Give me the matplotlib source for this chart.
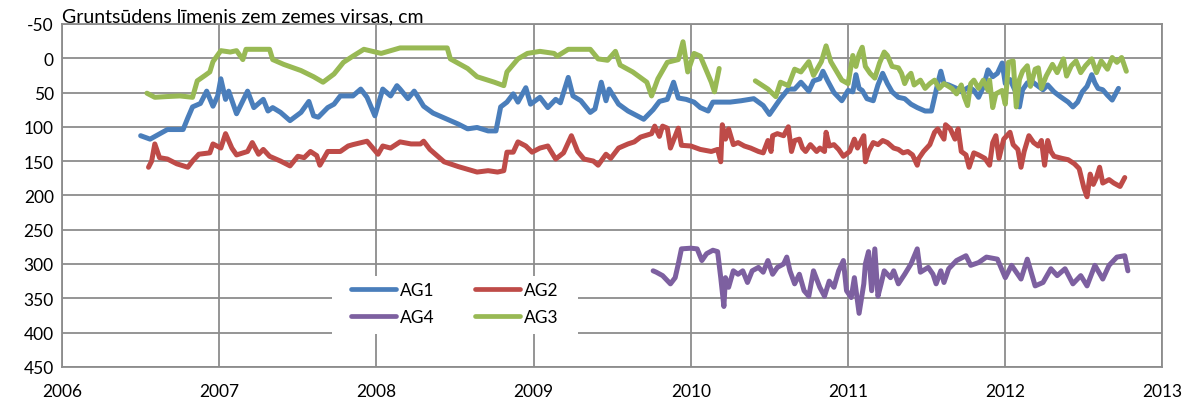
import matplotlib.pyplot as plt
from matplotlib.patches import Rectangle
import numpy as np

plt.rcParams['font.family'] = ['Lato', 'DejaVu Sans']
plt.rcParams['axes.unicode_minus'] = False

# AG1 - dates as decimal years, depth in cm below ground
ag1_t = [2006.50, 2006.56, 2006.67, 2006.77, 2006.80, 2006.83, 2006.88, 2006.92, 2006.96, 2006.99,
         2007.01, 2007.04, 2007.06, 2007.11, 2007.18, 2007.22, 2007.28, 2007.31, 2007.34, 2007.39,
         2007.45, 2007.52, 2007.57, 2007.60, 2007.63, 2007.69, 2007.73, 2007.77, 2007.85, 2007.90,
         2007.94, 2007.99, 2008.04, 2008.09, 2008.13, 2008.15, 2008.20, 2008.24, 2008.26, 2008.30,
         2008.36, 2008.43, 2008.52, 2008.58, 2008.64, 2008.71, 2008.76, 2008.79, 2008.83, 2008.87,
         2008.90, 2008.95, 2008.98, 2009.04, 2009.09, 2009.14, 2009.17, 2009.22, 2009.25, 2009.30,
         2009.36, 2009.39, 2009.43, 2009.46, 2009.48, 2009.54, 2009.60, 2009.70, 2009.76, 2009.80,
         2009.85, 2009.89, 2009.92, 2009.97, 2010.02, 2010.06, 2010.11, 2010.14, 2010.25, 2010.32,
         2010.40, 2010.46, 2010.50, 2010.54, 2010.57, 2010.62, 2010.66, 2010.70, 2010.75, 2010.78,
         2010.82, 2010.84, 2010.87, 2010.91, 2010.96, 2011.00, 2011.03, 2011.05, 2011.07, 2011.09,
         2011.12, 2011.16, 2011.19, 2011.22, 2011.25, 2011.28, 2011.32, 2011.36, 2011.40, 2011.44,
         2011.49, 2011.53, 2011.55, 2011.57, 2011.59, 2011.61, 2011.64, 2011.69, 2011.72, 2011.77,
         2011.80, 2011.83, 2011.86, 2011.89, 2011.92, 2011.95, 2011.98, 2012.00, 2012.03, 2012.07,
         2012.09, 2012.11, 2012.14, 2012.17, 2012.21, 2012.24, 2012.27, 2012.31, 2012.35, 2012.40,
         2012.43, 2012.46, 2012.49, 2012.52, 2012.55, 2012.57, 2012.59, 2012.62, 2012.65, 2012.68,
         2012.72]
ag1_v = [113, 118, 104, 104, 87, 71, 66, 48, 70, 55,
         30, 60, 48, 81, 48, 72, 60, 77, 72, 79,
         91, 79, 63, 84, 86, 72, 67, 55, 55, 45,
         57, 84, 45, 55, 40, 45, 59, 48, 55, 70,
         80, 87, 96, 103, 101, 106, 106, 71, 64, 52,
         64, 43, 67, 57, 72, 60, 65, 28, 55, 62,
         79, 74, 35, 62, 45, 67, 77, 89, 75, 63,
         60, 35, 58, 60, 64, 72, 77, 64, 64, 62,
         59, 69, 82, 69, 59, 45, 45, 35, 48, 33,
         30, 19, 33, 50, 62, 47, 49, 24, 44, 47,
         59, 62, 39, 22, 37, 49, 57, 59, 67, 72,
         77, 77, 57, 37, 19, 37, 39, 44, 49, 42,
         47, 57, 42, 17, 27, 22, 7, 37, 31, 51,
         71, 46, 36, 34, 41, 46, 39, 49, 56, 64,
         71, 64, 49, 41, 24, 36, 44, 46, 54, 61,
         44]

# AG2
ag2_t = [2006.55, 2006.57, 2006.59, 2006.62, 2006.67, 2006.73, 2006.80, 2006.83, 2006.87, 2006.94,
         2006.96, 2007.01, 2007.04, 2007.08, 2007.11, 2007.18, 2007.21, 2007.25, 2007.28, 2007.32,
         2007.39, 2007.45, 2007.50, 2007.54, 2007.58, 2007.62, 2007.64, 2007.69, 2007.77, 2007.82,
         2007.85, 2007.94, 2008.01, 2008.04, 2008.09, 2008.15, 2008.22, 2008.28, 2008.30, 2008.34,
         2008.43, 2008.52, 2008.58, 2008.64, 2008.71, 2008.77, 2008.81, 2008.83, 2008.87, 2008.90,
         2008.95, 2008.99, 2009.04, 2009.09, 2009.14, 2009.19, 2009.24, 2009.28, 2009.32, 2009.38,
         2009.41, 2009.46, 2009.49, 2009.54, 2009.60, 2009.64, 2009.68, 2009.75, 2009.77, 2009.80,
         2009.82, 2009.85, 2009.87, 2009.92, 2009.94, 2010.00, 2010.06, 2010.13, 2010.17, 2010.19,
         2010.20, 2010.22, 2010.24, 2010.27, 2010.30, 2010.34, 2010.38, 2010.43, 2010.46, 2010.49,
         2010.51, 2010.52, 2010.55, 2010.59, 2010.62, 2010.64, 2010.66, 2010.69, 2010.71, 2010.73,
         2010.76, 2010.80, 2010.82, 2010.85, 2010.86, 2010.88, 2010.91, 2010.94, 2010.97, 2011.01,
         2011.04, 2011.06, 2011.10, 2011.11, 2011.13, 2011.16, 2011.19, 2011.22, 2011.25, 2011.29,
         2011.32, 2011.35, 2011.38, 2011.41, 2011.44, 2011.45, 2011.48, 2011.52, 2011.55, 2011.57,
         2011.61, 2011.62, 2011.65, 2011.68, 2011.70, 2011.72, 2011.75, 2011.77, 2011.80, 2011.83,
         2011.87, 2011.90, 2011.92, 2011.94, 2011.96, 2011.99, 2012.03, 2012.05, 2012.08, 2012.10,
         2012.12, 2012.15, 2012.18, 2012.21, 2012.23, 2012.25, 2012.27, 2012.29, 2012.31, 2012.36,
         2012.40, 2012.44, 2012.47, 2012.50, 2012.52, 2012.54, 2012.56, 2012.58, 2012.60, 2012.62,
         2012.66, 2012.69, 2012.73, 2012.76]
ag2_v = [159, 150, 125, 145, 147, 154, 159, 150, 140, 138,
         125, 131, 110, 131, 141, 136, 123, 140, 133, 143,
         150, 157, 143, 145, 136, 142, 156, 136, 136, 128,
         126, 121, 140, 128, 131, 122, 125, 125, 121, 133,
         151, 158, 162, 166, 164, 166, 164, 137, 137, 122,
         128, 137, 131, 128, 147, 138, 113, 136, 147, 150,
         156, 140, 146, 131, 125, 122, 115, 110, 99, 114,
         99, 102, 131, 102, 127, 128, 133, 136, 133, 151,
         97, 118, 103, 126, 123, 128, 131, 136, 138, 120,
         136, 113, 110, 113, 100, 136, 120, 118, 131, 136,
         126, 136, 131, 136, 108, 128, 126, 133, 143, 136,
         118, 131, 113, 151, 136, 123, 126, 120, 123, 131,
         133, 138, 136, 141, 156, 146, 136, 126, 108, 103,
         118, 97, 103, 118, 103, 136, 141, 159, 138, 141,
         146, 156, 123, 113, 146, 118, 108, 126, 133, 159,
         136, 113, 123, 128, 120, 156, 120, 136, 143, 146,
         148, 154, 161, 189, 202, 169, 184, 174, 159, 182,
         177, 182, 187, 174]

# AG3 (gaps in the record left as NaN)
ag3_t = [2006.54, 2006.59, 2006.66, 2006.75, 2006.83, 2006.86, 2006.91, 2006.94, 2006.96, 2007.01,
         2007.07, 2007.11, 2007.15, 2007.17, 2007.32, 2007.34, 2007.41, 2007.52, 2007.60, 2007.66,
         2007.73, 2007.79, 2007.85, 2007.92, 2008.03, 2008.15, 2008.45, 2008.47, 2008.58, 2008.64,
         2008.75, 2008.81, 2008.83, 2008.90, 2008.96, 2009.04, 2009.13, 2009.15, 2009.22, 2009.36,
         2009.41, 2009.47, 2009.52, 2009.55, 2009.63, 2009.72, 2009.75, 2009.79, 2009.85, 2009.92,
         2009.95, 2009.98, 2010.02, 2010.06, 2010.13, 2010.15, 2010.18,
         2010.30,
         2010.41, 2010.49, 2010.54, 2010.57, 2010.62, 2010.66, 2010.70, 2010.75, 2010.78, 2010.83,
         2010.86, 2010.89, 2010.96, 2011.00, 2011.03, 2011.05, 2011.07, 2011.09, 2011.11, 2011.14,
         2011.17, 2011.20, 2011.23, 2011.25, 2011.28, 2011.32, 2011.34, 2011.36, 2011.38, 2011.40,
         2011.42, 2011.46, 2011.49, 2011.52, 2011.55, 2011.58, 2011.61, 2011.66, 2011.69, 2011.72,
         2011.74, 2011.76, 2011.78, 2011.80, 2011.83, 2011.86, 2011.89, 2011.90, 2011.92, 2011.94,
         2011.98, 2012.00, 2012.02, 2012.05, 2012.07, 2012.09, 2012.11, 2012.14, 2012.16, 2012.19,
         2012.21, 2012.23, 2012.26, 2012.30, 2012.33, 2012.37, 2012.39, 2012.42, 2012.45, 2012.48,
         2012.51, 2012.55, 2012.58, 2012.61, 2012.65, 2012.68, 2012.71, 2012.74, 2012.77]
ag3_v = [51, 57, 56, 55, 57, 33, 25, 20, 5, -11,
         -9, -11, 2, -13, -13, 2, 9, 18, 27, 35,
         23, 6, -3, -13, -7, -15, -15, 1, 15, 27,
         35, 40, 20, 1, -7, -10, -7, -3, -13, -13,
         1, 3, -10, 10, 20, 35, 55, 30, 6, 2,
         -24, 20, -7, -3, 35, 49, 15,
         np.nan,
         33, 45, 56, 35, 40, 16, 20, 5, 25, 5,
         -18, 5, 32, 37, -4, 12, -6, -16, 12, 22,
         29, 7, -9, -4, 12, 14, 22, 37, 27, 22,
         39, 32, 44, 37, 32, 44, 37, 44, 52, 39,
         57, 69, 37, 32, 44, 32, 47, 32, 72, 52,
         47, 67, 6, 4, 71, 31, 19, 11, 41, 16,
         14, 44, 26, 9, 21, 1, 26, 11, 4, 21,
         11, 1, 21, 4, 16, -1, 6, -1, 19]

# AG4
ag4_t = [2009.76, 2009.78, 2009.82, 2009.87, 2009.90, 2009.92, 2009.94, 2010.00, 2010.04, 2010.07,
         2010.10, 2010.14, 2010.17, 2010.19, 2010.21, 2010.22, 2010.24, 2010.27, 2010.30, 2010.33,
         2010.36, 2010.39, 2010.43, 2010.46, 2010.49, 2010.52, 2010.55, 2010.59, 2010.61, 2010.63,
         2010.66, 2010.69, 2010.72, 2010.75, 2010.78, 2010.82, 2010.85, 2010.88, 2010.91, 2010.94,
         2010.97, 2010.99, 2011.02, 2011.04, 2011.07, 2011.10, 2011.11, 2011.13, 2011.15, 2011.17,
         2011.19, 2011.21, 2011.23, 2011.27, 2011.29, 2011.32, 2011.36, 2011.40, 2011.44, 2011.46,
         2011.51, 2011.54, 2011.56, 2011.59, 2011.61, 2011.64, 2011.69, 2011.75, 2011.78, 2011.83,
         2011.88, 2011.95, 2012.00, 2012.04, 2012.10, 2012.14, 2012.19, 2012.24, 2012.29, 2012.33,
         2012.38, 2012.43, 2012.48, 2012.52, 2012.57, 2012.62, 2012.66, 2012.71, 2012.76, 2012.78]
ag4_v = [310, 312, 317, 329, 320, 300, 278, 277, 278, 295,
         285, 280, 282, 320, 362, 320, 334, 310, 315, 310,
         327, 310, 305, 312, 295, 315, 305, 300, 290, 310,
         329, 315, 339, 347, 310, 334, 347, 325, 334, 310,
         295, 339, 349, 320, 372, 329, 300, 282, 339, 278,
         347, 329, 310, 320, 310, 329, 315, 300, 278, 312,
         305, 315, 329, 310, 327, 307, 295, 288, 302, 298,
         290, 293, 320, 302, 322, 293, 332, 327, 307, 317,
         307, 329, 317, 332, 302, 322, 302, 290, 288, 310]

years = [2006, 2007, 2008, 2009, 2010, 2011, 2012, 2013]
depths = [-50, 0, 50, 100, 150, 200, 250, 300, 350, 400, 450]

fig = plt.figure(figsize=(11.82, 4.02), dpi=100)
ax = fig.add_axes([0.0525, 0.085, 0.931, 0.853])

lw = 3.6
kw = dict(lw=lw, solid_capstyle='round', solid_joinstyle='round')
ax.plot(ag1_t, ag1_v, color='#4A7EBB', label='AG1', **kw)
ax.plot(ag4_t, ag4_v, color='#7D60A0', label='AG4', **kw)
ax.plot(ag2_t, ag2_v, color='#BE4B48', label='AG2', **kw)
ax.plot(ag3_t, ag3_v, color='#98B954', label='AG3', **kw)

ax.set_xlim(2006, 2013)
ax.set_ylim(450, -50)
ax.set_xticks(years)
ax.set_yticks(depths)
ax.tick_params(axis='both', length=0, labelsize=12.5, colors='black')
ax.tick_params(axis='x', pad=12)
ax.tick_params(axis='y', pad=6)
ax.grid(True, color='#8c8c8c', lw=1.3)
ax.set_axisbelow(True)
for s in ax.spines.values():
    s.set_color('#8c8c8c')
    s.set_linewidth(1.3)

# white box behind the legend hides the gridlines
ax.add_patch(Rectangle((0.245, 0.096), 0.224, 0.169, transform=ax.transAxes,
                       facecolor='white', edgecolor='none', zorder=1))

leg = ax.legend(ncol=2, loc='center', bbox_to_anchor=(0.357, 0.184), frameon=False,
                fontsize=12.5, handlelength=2.6, columnspacing=2.3, handletextpad=0.25,
                borderpad=0.2, labelspacing=0.65)
for h in leg.get_lines():
    h.set_linewidth(3.4)

fig.text(0.0525, 0.957, 'Gruntsūdens līmenis zem zemes virsas, cm', fontsize=14,
         ha='left', va='center')

fig.savefig('out.png', dpi=100)
